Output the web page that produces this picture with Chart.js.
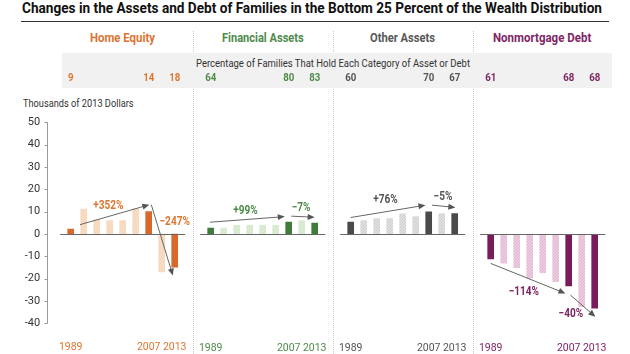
<!DOCTYPE html>
<html>
<head>
<meta charset="utf-8">
<script src="https://cdn.jsdelivr.net/npm/chart.js@4"></script>
<style>
body { margin:0; width:630px; height:354px; position:relative; overflow:hidden; background:#fff; font-family:Roboto,sans-serif; }
.t { position:absolute; white-space:nowrap; line-height:1; transform-origin:0 0; }
#title { left:21.7px; top:2px; font-weight:bold; font-size:14.5px; color:#111; }
#rule { position:absolute; left:21px; top:21px; width:588px; border-top:1.5px solid #333; }
.head { top:31.5px; font-weight:bold; font-size:12px; }
.sep { position:absolute; top:31px; height:323px; border-left:1px dotted #cacaca; }
#band { position:absolute; left:62px; top:53px; width:550px; height:35px; background:#f1f1f1; }
#sub { left:196px; top:57.5px; font-size:11px; color:#333; }
#ytitle { left:22.7px; top:97.8px; font-size:11px; color:#333; }
canvas { position:absolute; left:0; top:0; }
</style>
</head>
<body>
<div class="sep" style="left:193px"></div>
<div class="sep" style="left:333px"></div>
<div class="sep" style="left:473px"></div>
<div id="title" class="t" data-w="580">Changes in the Assets and Debt of Families in the Bottom 25 Percent of the Wealth Distribution</div>
<div id="rule"></div>
<div class="t head" data-w="65" style="left:90px;color:#dc7331">Home Equity</div>
<div class="t head" data-w="81.7" style="left:221.7px;color:#4e8a4b">Financial Assets</div>
<div class="t head" data-w="65" style="left:370px;color:#575757">Other Assets</div>
<div class="t head" data-w="98.3" style="left:493.3px;color:#7f2566">Nonmortgage Debt</div>
<div id="band"></div>
<div id="sub" class="t" data-w="274">Percentage of Families That Hold Each Category of Asset or Debt</div>
<div id="ytitle" class="t" data-w="110.6">Thousands of 2013 Dollars</div>
<canvas id="c0" width="630" height="354"></canvas>
<canvas id="c1" width="630" height="354"></canvas>
<canvas id="c2" width="630" height="354"></canvas>
<canvas id="c3" width="630" height="354"></canvas>
<script>
const years = ['1989', '1992', '1995', '1998', '2001', '2004', '2007', '2010', '2013'];
const shownYears = [0, 6, 8];

// thousands of 2013 dollars
const homeEquity = [2.2, 11.2, 6.4, 6, 6, 11.4, 10, -17, -14.8];
const financialAssets = [2.8, 2.8, 4, 4, 4, 4, 5.4, 6.1, 5.0];
const otherAssets = [5.4, 6.1, 7, 7, 9.1, 7.9, 10, 9.1, 9.2];
const nonmortgageDebt = [-11, -12.9, -14.9, -19.6, -17.1, -21.1, -23.1, -32.3, -33];

// percentage of families holding each category (1989, 2007, 2013)
const shareHomeEquity = [9, 14, 18];
const shareFinancial = [64, 80, 83];
const shareOther = [60, 70, 67];
const shareDebt = [61, 68, 68];

const changeHomeEquity = ['+352%', '\u2212247%'];
const changeFinancial = ['+99%', '\u22127%'];
const changeOther = ['+76%', '\u22125%'];
const changeDebt = ['\u2212114%', '\u221240%'];

const yTicks = [50, 40, 30, 20, 10, 0, -10, -20, -30, -40];

// squeeze html text to the widths of the condensed original face
document.querySelectorAll('[data-w]').forEach(el => {
  const w = el.getBoundingClientRect().width;
  el.style.transform = 'scaleX(' + (el.dataset.w / w) + ')';
});

function dots(base, dot) {
  const c = document.createElement('canvas');
  c.width = 3; c.height = 3;
  const g = c.getContext('2d');
  g.fillStyle = base; g.fillRect(0, 0, 3, 3);
  g.fillStyle = dot; g.fillRect(0, 0, 1, 1); g.fillRect(2, 1, 1, 1); g.fillRect(1, 2, 1, 1);
  return g.createPattern(c, 'repeat');
}

function squeezed(ctx, text, x, y) {
  ctx.save();
  ctx.translate(x, y);
  ctx.scale(0.84, 1);
  ctx.fillText(text, 0, 0);
  ctx.restore();
}

const panelNotes = {
  id: 'panelNotes',
  afterDatasetsDraw(chart, args, opts) {
    const ctx = chart.ctx, xs = chart.scales.x, ys = chart.scales.y, area = chart.chartArea;
    ctx.save();
    // zero line
    const y0 = Math.round(ys.getPixelForValue(0)) + 0.5;
    ctx.strokeStyle = '#666'; ctx.lineWidth = 1;
    ctx.beginPath(); ctx.moveTo(area.left - 4, y0); ctx.lineTo(area.right + 4, y0); ctx.stroke();

    // y axis line sits a little left of the bars
    if (opts.axis) {
      const ax = Math.round(area.left - 17.5) + 0.5;
      ctx.strokeStyle = '#999';
      ctx.beginPath(); ctx.moveTo(ax, ys.getPixelForValue(50)); ctx.lineTo(ax, ys.getPixelForValue(-40)); ctx.stroke();
      yTicks.forEach(t => {
        const ty = Math.round(ys.getPixelForValue(t)) + 0.5;
        ctx.beginPath(); ctx.moveTo(ax - 3, ty); ctx.lineTo(ax, ty); ctx.stroke();
      });
    }

    // arrows
    ctx.strokeStyle = '#666'; ctx.fillStyle = '#555';
    opts.arrows.forEach(a => {
      const x1 = xs.getPixelForValue(a[0]), y1 = ys.getPixelForValue(a[1]);
      const x2 = xs.getPixelForValue(a[2]), y2 = ys.getPixelForValue(a[3]);
      const ang = Math.atan2(y2 - y1, x2 - x1);
      ctx.beginPath(); ctx.moveTo(x1, y1); ctx.lineTo(x2 - 5 * Math.cos(ang), y2 - 5 * Math.sin(ang)); ctx.stroke();
      ctx.beginPath();
      ctx.moveTo(x2, y2);
      ctx.lineTo(x2 - 7 * Math.cos(ang) + 3 * Math.sin(ang), y2 - 7 * Math.sin(ang) - 3 * Math.cos(ang));
      ctx.lineTo(x2 - 7 * Math.cos(ang) - 3 * Math.sin(ang), y2 - 7 * Math.sin(ang) + 3 * Math.cos(ang));
      ctx.closePath(); ctx.fill();
    });

    // change labels
    ctx.fillStyle = opts.color;
    ctx.font = 'bold 12px Roboto';
    ctx.textAlign = 'center'; ctx.textBaseline = 'middle';
    opts.labels.forEach((l, i) => {
      squeezed(ctx, opts.texts[i], xs.getPixelForValue(l[0]), ys.getPixelForValue(l[1]));
    });

    // share of families, in the header band
    ctx.font = 'bold 11.5px Roboto';
    opts.shares.forEach((s, i) => {
      squeezed(ctx, String(s), xs.getPixelForValue(shownYears[i]), 78);
    });
    ctx.restore();
  }
};

function makePanel(k, values, dark, light, dot, textColor, shares, texts, arrows, labels) {
  const left = 64.2 + 140 * k;
  const colors = values.map((v, i) => shownYears.includes(i) ? dark : dots(light, dot));
  new Chart(document.getElementById('c' + k), {
    type: 'bar',
    data: {
      labels: years,
      datasets: [{ data: values, backgroundColor: colors, barThickness: 6, borderWidth: 0 }]
    },
    options: {
      responsive: false,
      animation: false,
      devicePixelRatio: 1,
      layout: { padding: { left: k === 0 ? 0 : left, right: 630 - left - 117, top: 122.3, bottom: 0 } },
      plugins: {
        legend: { display: false },
        tooltip: { enabled: false },
        panelNotes: { axis: k === 0, color: textColor, shares: shares, texts: texts, arrows: arrows, labels: labels }
      },
      scales: {
        x: {
          grid: { display: false, drawTicks: false },
          border: { display: false },
          afterFit: s => { s.height = 30.1; },
          ticks: {
            autoSkip: false, maxRotation: 0, padding: 18, color: textColor,
            font: { family: 'Roboto', size: 10.5 },
            callback: function (val, i) { return shownYears.includes(i) ? this.getLabelForValue(val) : ''; }
          }
        },
        y: {
          display: k === 0,
          min: -40, max: 50,
          grid: { display: false, drawTicks: false },
          border: { display: false },
          afterFit: s => { if (k === 0) s.width = 64.2; },
          ticks: { stepSize: 10, padding: 24, color: '#333', font: { family: 'Roboto', size: 11 } }
        }
      }
    },
    plugins: [panelNotes]
  });
}

makePanel(0, homeEquity, '#d8692b', '#f9e0c9', '#f3cfb0', '#dd7530', shareHomeEquity, changeHomeEquity,
  [[0.72, 4.2, 6.05, 13.1], [6.2, 13.1, 7.86, -18.6]], [[2.9, 12.6], [8.0, 5.5]]);
makePanel(1, financialAssets, '#3f7b3b', '#ddeed7', '#cfe5c7', '#4f8a4a', shareFinancial, changeFinancial,
  [[-0.05, 5.4, 5.7, 7.9], [6.2, 8.1, 8.0, 7.6]], [[2.68, 10.5], [6.95, 11.6]]);
makePanel(2, otherAssets, '#4a4a4a', '#e0e0e0', '#cdcdcd', '#555555', shareOther, changeOther,
  [[0.0, 7.5, 5.75, 13.0], [6.26, 13.0, 8.05, 12.0]], [[2.67, 15.3], [7.1, 16.8]]);
makePanel(3, nonmortgageDebt, '#7b1b5b', '#edcbe0', '#e0b5cf', '#7d2463', shareDebt, changeDebt,
  [[0.0, -13.0, 5.75, -26.4], [6.13, -27.1, 8.05, -36.8]], [[2.55, -25.6], [6.17, -35.6]]);
</script>
</body>
</html>
